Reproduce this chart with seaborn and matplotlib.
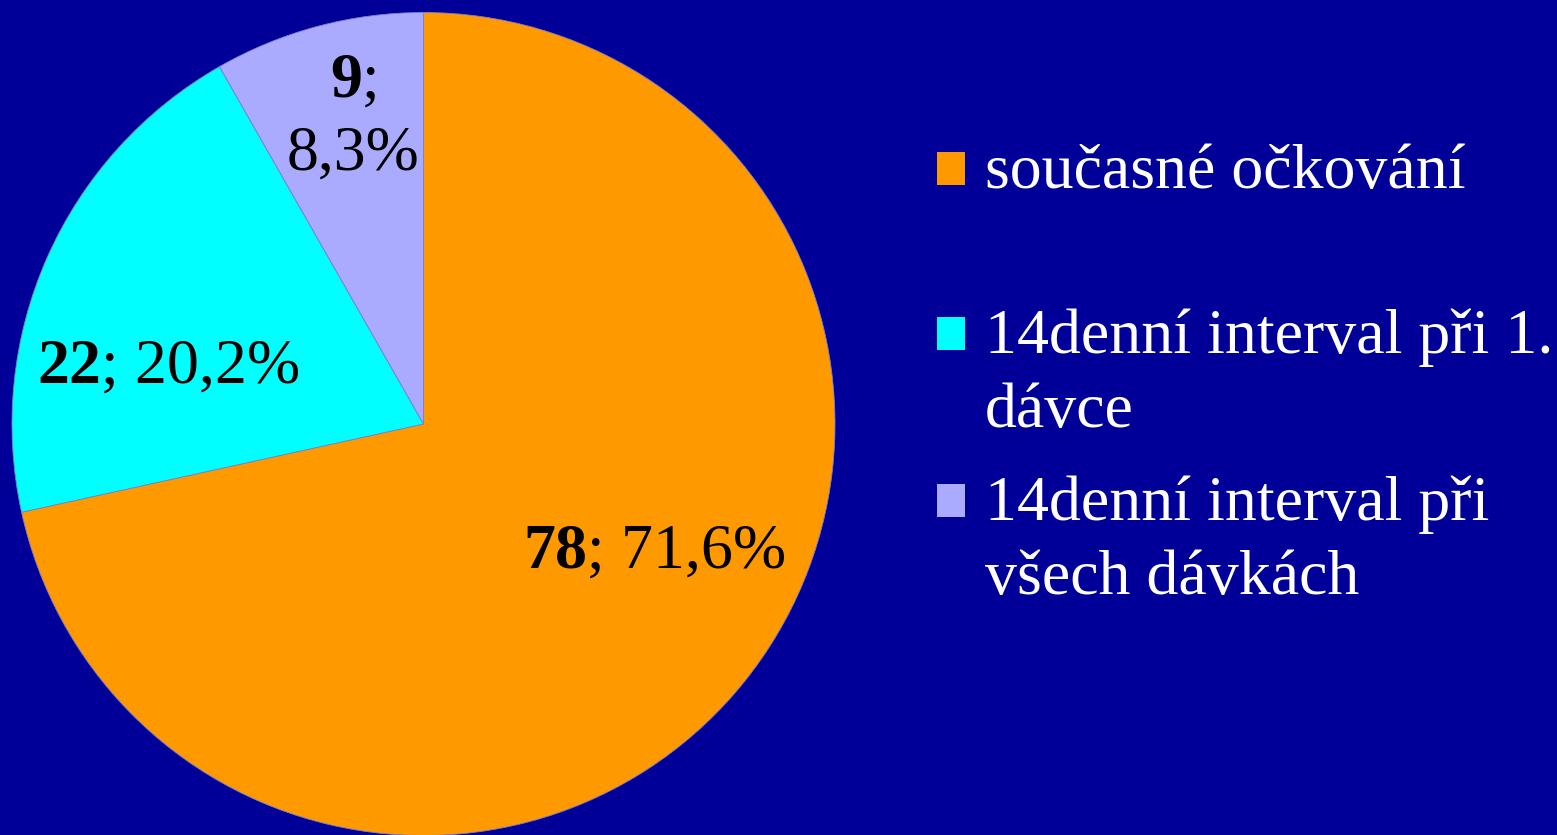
import matplotlib
matplotlib.use("Agg")
import matplotlib.pyplot as plt
import seaborn as sns
from matplotlib.patches import Rectangle

# data
categories = ["současné očkování",
              "14denní interval při 1.\ndávce",
              "14denní interval při\nvšech dávkách"]
counts = [78, 22, 9]
percents = ["71,6%", "20,2%", "8,3%"]
colors = ["#FF9900", "#00FFFF", "#AAAAFF"]

bg = "#000099"

sns.set_theme(style="white")
plt.rcParams['font.family'] = ['Liberation Serif', 'DejaVu Serif']
plt.rcParams['mathtext.fontset'] = 'custom'
plt.rcParams['mathtext.rm'] = 'Liberation Serif'
plt.rcParams['mathtext.bf'] = 'Liberation Serif:bold'

W, H = 1557, 835
fig = plt.figure(figsize=(W / 100, H / 100), dpi=100, facecolor=bg)
ax = fig.add_axes([0, 0, 1, 1])
ax.set_facecolor(bg)

# pie geometry in pixels -> data units (radius 1)
cx, cy, R = 423.5, 424.0, 411.5

wedges, _ = ax.pie(counts, colors=colors, startangle=90, counterclock=False,
                   radius=1, center=(0, 0),
                   wedgeprops=dict(edgecolor="#7f7fcc", linewidth=0.6))
ax.set_xlim(-cx / R, (W - cx) / R)
ax.set_ylim((cy - H) / R, cy / R)
ax.set_aspect('equal')
ax.axis('off')

# data labels (pixel anchors of label centre / baseline)
label_pos = [(654, 568), (168.5, 383), (353, 170)]
label_wrap = [False, False, True]
fs = 46
for n, p, (px, py), wrap in zip(counts, percents, label_pos, label_wrap):
    sep = ";\n" if wrap else "; "
    txt = r"$\mathbf{" + str(n) + "}$" + sep + p
    ax.text((px - cx) / R, (cy - py) / R, txt, ha='center', va='baseline',
            multialignment='center', fontsize=fs, color='black',
            linespacing=1.35)

# legend drawn by hand
box_x, box_w, box_h = 937, 28, 33
text_x = 985
first_base = [188, 353, 520]
line_step = 74
for cat, col, yb in zip(categories, colors, first_base):
    fig.patches.append(Rectangle((box_x / W, 1 - (yb - 3) / H), box_w / W, box_h / H,
                                 transform=fig.transFigure, facecolor=col,
                                 edgecolor='none'))
    for i, line in enumerate(cat.split("\n")):
        fig.text(text_x / W, 1 - (yb + i * line_step) / H, line, ha='left',
                 va='baseline', fontsize=fs, color='white')

fig.savefig("out.png", dpi=100, facecolor=bg)
